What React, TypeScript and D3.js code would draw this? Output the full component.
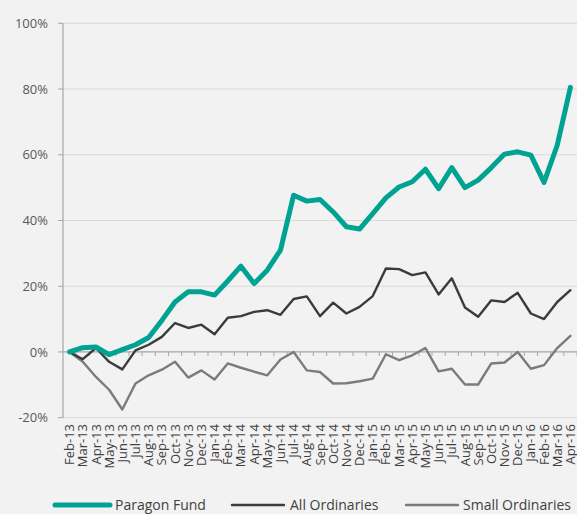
import React from "react";
import * as d3 from "d3";

const months = [
  "Feb-13","Mar-13","Apr-13","May-13","Jun-13","Jul-13","Aug-13","Sep-13","Oct-13","Nov-13","Dec-13",
  "Jan-14","Feb-14","Mar-14","Apr-14","May-14","Jun-14","Jul-14","Aug-14","Sep-14","Oct-14","Nov-14","Dec-14",
  "Jan-15","Feb-15","Mar-15","Apr-15","May-15","Jun-15","Jul-15","Aug-15","Sep-15","Oct-15","Nov-15","Dec-15",
  "Jan-16","Feb-16","Mar-16","Apr-16",
];

const paragon = [
  0, 1.3, 1.5, -0.8, 0.7, 2.2, 4.4, 9.6, 15.2, 18.3, 18.3,
  17.3, 21.6, 26.1, 20.8, 24.9, 31, 47.7, 45.9, 46.4, 42.6, 38.1, 37.4,
  42.1, 46.9, 50.2, 51.8, 55.6, 49.7, 56.1, 50, 52.3, 56.1, 60.2, 60.9,
  59.9, 51.6, 62.9, 80.5,
];

const allOrds = [
  0, -2.2, 1.2, -3, -5.3, 0.5, 2.2, 4.6, 8.8, 7.3, 8.3,
  5.4, 10.4, 10.9, 12.2, 12.7, 11.3, 16.1, 16.9, 10.9, 15, 11.7, 13.7,
  17, 25.4, 25.2, 23.4, 24.2, 17.5, 22.4, 13.5, 10.7, 15.7, 15.2, 18,
  11.7, 10, 15.2, 18.8,
];

const smallOrds = [
  0, -3, -7.6, -11.5, -17.5, -9.6, -7.1, -5.4, -3, -7.8, -5.6,
  -8.4, -3.5, -4.8, -6, -7.1, -2.3, 0, -5.6, -6.1, -9.6, -9.5, -8.9,
  -8.1, -0.7, -2.5, -1, 1.2, -5.9, -5.1, -9.9, -9.9, -3.5, -3.2, 0,
  -5.1, -4, 1.2, 4.9,
];

const yTicks = [-20, 0, 20, 40, 60, 80, 100];

const series = [
  { name: "Paragon Fund", values: paragon, color: "#00a292", width: 5 },
  { name: "All Ordinaries", values: allOrds, color: "#3b3b3b", width: 2.4 },
  { name: "Small Ordinaries", values: smallOrds, color: "#7b7b7b", width: 2.4 },
];

const W = 577;
const H = 514;
const FONT = "'Open Sans', sans-serif";

export default function App() {
  React.useEffect(() => {
    document.body.style.margin = "0";
    document.body.style.background = "#f2f2f2";
  }, []);

  const x = d3.scaleBand<string>().domain(months).range([63, 577]).padding(0);
  const y = d3.scaleLinear().domain([-20, 100]).range([417.7, 23.3]);
  const cx = (m: string) => (x(m) as number) + x.bandwidth() / 2;

  const line = d3
    .line<number>()
    .x((_, i) => cx(months[i]))
    .y((v) => y(v));

  const legend = [
    { x1: 55, x2: 110, tx: 115 },
    { x1: 232, x2: 284, tx: 290 },
    { x1: 406, x2: 458, tx: 463 },
  ];

  return (
    <svg
      width={W}
      height={H}
      style={{ position: "absolute", left: 0, top: 0, background: "#f2f2f2" }}
      fontFamily={FONT}
    >
      <rect x={0} y={0} width={W} height={H} fill="#f2f2f2" />
      {yTicks.map((t) => (
        <g key={t}>
          {t !== 0 && (
            <line x1={63} x2={577} y1={y(t)} y2={y(t)} stroke="#d9d9d9" strokeWidth={1} />
          )}
          <line x1={58} x2={63} y1={y(t)} y2={y(t)} stroke="#a6a6a6" strokeWidth={1} />
          <text x={48} y={y(t)} dy="0.35em" textAnchor="end" fontSize={13} fill="#595959">
            {t}%
          </text>
        </g>
      ))}
      <line x1={63} x2={63} y1={y(100)} y2={y(-20)} stroke="#a6a6a6" strokeWidth={1.2} />
      <line x1={63} x2={577} y1={y(0)} y2={y(0)} stroke="#a6a6a6" strokeWidth={1.2} />
      {months.map((m) => (
        <line
          key={"t" + m}
          x1={(x(m) as number) + x.bandwidth()}
          x2={(x(m) as number) + x.bandwidth()}
          y1={y(0)}
          y2={y(0) + 4}
          stroke="#a6a6a6"
          strokeWidth={1}
        />
      ))}
      {months.map((m) => (
        <text
          key={"l" + m}
          transform={`translate(${cx(m)},424) rotate(-90)`}
          dy="0.35em"
          textAnchor="end"
          fontSize={13}
          fill="#404040"
        >
          {m}
        </text>
      ))}
      {[...series].reverse().map((s) => (
        <path
          key={s.name}
          d={line(s.values) || ""}
          fill="none"
          stroke={s.color}
          strokeWidth={s.width}
          strokeLinejoin="round"
          strokeLinecap="round"
        />
      ))}
      {series.map((s, i) => (
        <g key={"lg" + s.name}>
          <line
            x1={legend[i].x1}
            x2={legend[i].x2}
            y1={505}
            y2={505}
            stroke={s.color}
            strokeWidth={s.width}
            strokeLinecap="round"
          />
          <text x={legend[i].tx} y={505} dy="0.35em" fontSize={14} fill="#404040">
            {s.name}
          </text>
        </g>
      ))}
    </svg>
  );
}
